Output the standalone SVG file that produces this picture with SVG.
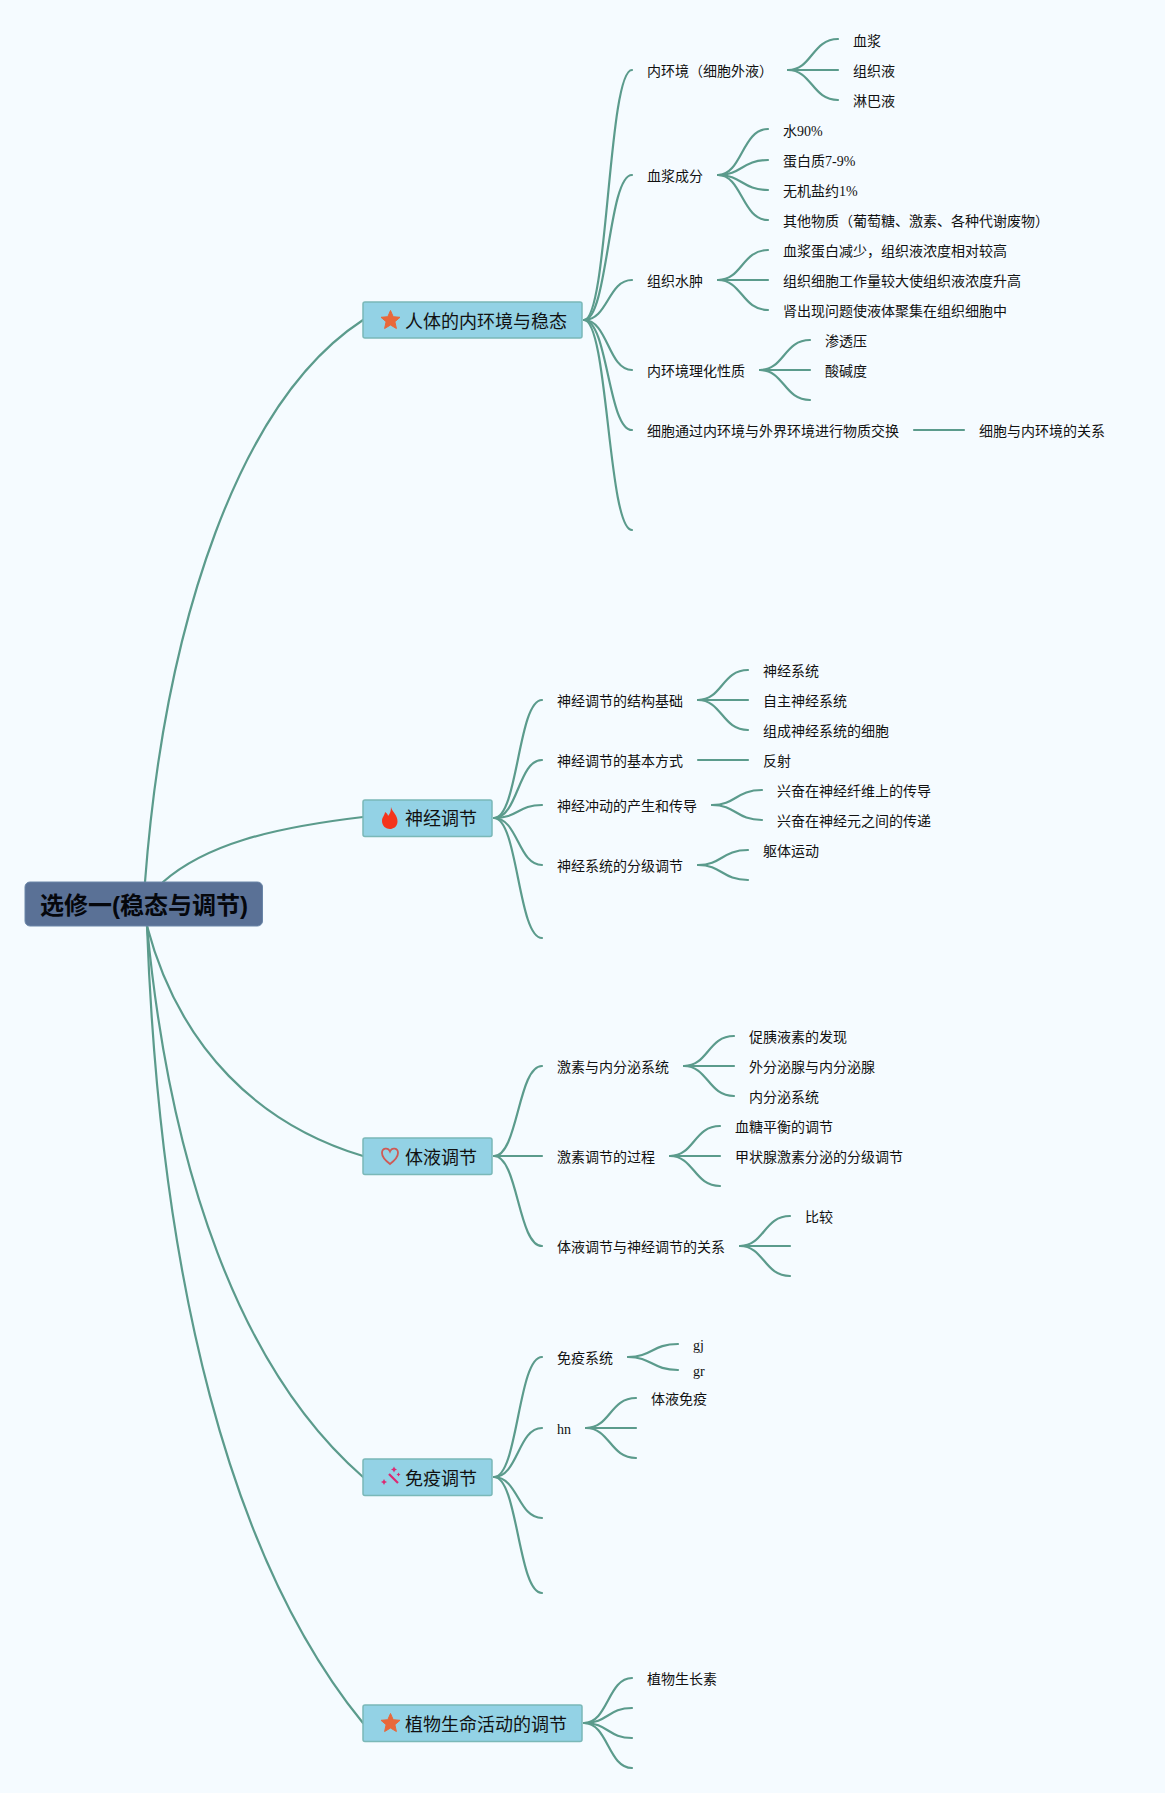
<svg xmlns="http://www.w3.org/2000/svg" width="1165" height="1793" viewBox="0 0 1165 1793">
<style>
.c{fill:none;stroke:#5b9b8c;stroke-width:2.200;stroke-linecap:round}
.n{fill:#93d2e5;stroke:#7ab8b8;stroke-width:1.500}
.r{fill:#5a7196;stroke:#6a86a8;stroke-width:1}
text{fill:#111;font-family:"Liberation Serif","Noto Sans CJK SC",sans-serif;font-size:14px}
.t{font-size:18px;font-family:"Noto Sans CJK SC",sans-serif}
.rt{font-size:24px;font-weight:700;font-family:"Liberation Sans","Noto Sans CJK SC",sans-serif;fill:#05070c}
</style>
<defs>
<path id="star" d="M0,-9.500 L2.700,-3.300 L9.500,-2.700 L4.400,1.700 L5.900,8.500 L0,5 L-5.900,8.500 L-4.400,1.700 L-9.500,-2.700 L-2.700,-3.300 Z" fill="#e8683a" stroke="#e8683a" stroke-linejoin="round"/>
</defs>
<rect width="1165" height="1793" fill="#f5fbff"/>
<g id="connectors">
<path class="c" d="M145,882 C165,620 240,400 363,320"/>
<path class="c" d="M163,882 C205,845 270,828 363,817"/>
<path class="c" d="M147,926 C180,1050 260,1125 363,1156"/>
<path class="c" d="M147,926 C170,1170 240,1370 363,1477"/>
<path class="c" d="M147,926 C160,1280 230,1560 363,1723"/>
<path class="c" d="M584,320 C608,320 608,70 632,70"/>
<path class="c" d="M584,320 C608,320 608,175 632,175"/>
<path class="c" d="M584,320 C608,320 608,280 632,280"/>
<path class="c" d="M584,320 C608,320 608,370 632,370"/>
<path class="c" d="M584,320 C608,320 608,430 632,430"/>
<path class="c" d="M584,320 C608,320 608,530 632,530"/>
<path class="c" d="M788,70 C812,70 812,39 838,39"/><path class="c" d="M788,70 H838"/><path class="c" d="M788,70 C812,70 812,100 838,100"/>
<path class="c" d="M718,175 C742,175 742,129 768,129"/><path class="c" d="M718,175 C742,175 742,160 768,160"/><path class="c" d="M718,175 C742,175 742,190 768,190"/><path class="c" d="M718,175 C742,175 742,220 768,220"/>
<path class="c" d="M718,280 C742,280 742,250 768,250"/><path class="c" d="M718,280 H768"/><path class="c" d="M718,280 C742,280 742,310 768,310"/>
<path class="c" d="M760,370 C784,370 784,340 810,340"/><path class="c" d="M760,370 H810"/><path class="c" d="M760,370 C784,370 784,400 810,400"/>
<path class="c" d="M914,430 H964"/>
<path class="c" d="M494,818 C518,818 518,700 542,700"/>
<path class="c" d="M494,818 C518,818 518,760 542,760"/>
<path class="c" d="M494,818 C518,818 518,805 542,805"/>
<path class="c" d="M494,818 C518,818 518,865 542,865"/>
<path class="c" d="M494,818 C518,818 518,938 542,938"/>
<path class="c" d="M698,700 C722,700 722,670 748,670"/><path class="c" d="M698,700 H748"/><path class="c" d="M698,700 C722,700 722,730 748,730"/>
<path class="c" d="M698,760 H748"/>
<path class="c" d="M712,805 C736,805 736,790 762,790"/><path class="c" d="M712,805 C736,805 736,820 762,820"/>
<path class="c" d="M698,865 C722,865 722,850 748,850"/><path class="c" d="M698,865 C722,865 722,880 748,880"/>
<path class="c" d="M494,1156 C518,1156 518,1066 542,1066"/>
<path class="c" d="M494,1156 H542"/>
<path class="c" d="M494,1156 C518,1156 518,1246 542,1246"/>
<path class="c" d="M684,1066 C708,1066 708,1036 734,1036"/><path class="c" d="M684,1066 H734"/><path class="c" d="M684,1066 C708,1066 708,1096 734,1096"/>
<path class="c" d="M670,1156 C694,1156 694,1126 720,1126"/><path class="c" d="M670,1156 H720"/><path class="c" d="M670,1156 C694,1156 694,1186 720,1186"/>
<path class="c" d="M740,1246 C764,1246 764,1216 790,1216"/><path class="c" d="M740,1246 H790"/><path class="c" d="M740,1246 C764,1246 764,1276 790,1276"/>
<path class="c" d="M494,1477 C518,1477 518,1357 542,1357"/>
<path class="c" d="M494,1477 C518,1477 518,1428 542,1428"/>
<path class="c" d="M494,1477 C518,1477 518,1518 542,1518"/>
<path class="c" d="M494,1477 C518,1477 518,1593 542,1593"/>
<path class="c" d="M628,1357 C652,1357 652,1344 678,1344"/><path class="c" d="M628,1357 C652,1357 652,1370 678,1370"/>
<path class="c" d="M586,1428 C610,1428 610,1398 636,1398"/><path class="c" d="M586,1428 H636"/><path class="c" d="M586,1428 C610,1428 610,1458 636,1458"/>
<path class="c" d="M584,1723 C608,1723 608,1678 632,1678"/>
<path class="c" d="M584,1723 C608,1723 608,1708 632,1708"/>
<path class="c" d="M584,1723 C608,1723 608,1738 632,1738"/>
<path class="c" d="M584,1723 C608,1723 608,1768 632,1768"/>
</g>
<g id="root"><rect class="r" x="25" y="882" width="237.500" height="44" rx="5"/><text class="rt" x="40" y="914">选修一(稳态与调节)</text></g>
<g id="n1"><rect class="n" x="363" y="302" width="219" height="36" rx="2"/><use href="#star" x="390.500" y="320"/><text class="t" x="405" y="328">人体的内环境与稳态</text></g>
<g id="n2"><rect class="n" x="363" y="800" width="129" height="36.500" rx="2"/><path d="M391,807 C392,812 398,815 397.500,822 C397,827 393,829 390,829 C386,829 382,826 382,821 C382,817 385,815 385,812 C387,813 388,815 388,816 C390,814 391,811 391,807 Z" fill="#f4351c"/><text class="t" x="405" y="825">神经调节</text></g>
<g id="n3"><rect class="n" x="363" y="1138" width="129" height="36.500" rx="2"/><path d="M390,1164 C384,1159.500 382,1156.500 382,1153 C382,1148 388,1147 390,1151.500 C392,1147 398,1148 398,1153 C398,1156.500 396,1159.500 390,1164 Z" fill="none" stroke="#cf5a55" stroke-width="1.800"/><text class="t" x="405" y="1164">体液调节</text></g>
<g id="n4"><rect class="n" x="363" y="1459" width="129" height="36.500" rx="2"/><path d="M389,1474 L398,1483" stroke="#dc2a72" stroke-width="2.200" fill="none"/><path d="M394,1466.500 l1,2 2,1 -2,1 -1,2 -1,-2 -2,-1 2,-1z M384,1479 l1,2 2,1 -2,1 -1,2 -1,-2 -2,-1 2,-1z M398.500,1472.500 l.7,1.300 1.300,.7 -1.300,.7 -.7,1.300 -.7,-1.300 -1.300,-.7 1.300,-.7z" fill="#dc2a72"/><text class="t" x="405" y="1485">免疫调节</text></g>
<g id="n5"><rect class="n" x="363" y="1705" width="219" height="36.500" rx="2"/><use href="#star" x="390.500" y="1723"/><text class="t" x="405" y="1731">植物生命活动的调节</text></g>
<g id="labels">
<text x="647" y="76">内环境（细胞外液）</text>
<text x="853" y="46">血浆</text><text x="853" y="76">组织液</text><text x="853" y="106">淋巴液</text>
<text x="647" y="181">血浆成分</text>
<text x="783" y="136">水90%</text><text x="783" y="166">蛋白质7-9%</text><text x="783" y="196">无机盐约1%</text><text x="783" y="226">其他物质（葡萄糖、激素、各种代谢废物）</text>
<text x="647" y="286">组织水肿</text>
<text x="783" y="256">血浆蛋白减少，组织液浓度相对较高</text><text x="783" y="286">组织细胞工作量较大使组织液浓度升高</text><text x="783" y="316">肾出现问题使液体聚集在组织细胞中</text>
<text x="647" y="376">内环境理化性质</text>
<text x="825" y="346">渗透压</text><text x="825" y="376">酸碱度</text>
<text x="647" y="436">细胞通过内环境与外界环境进行物质交换</text>
<text x="979" y="436">细胞与内环境的关系</text>
<text x="557" y="706">神经调节的结构基础</text>
<text x="763" y="676">神经系统</text><text x="763" y="706">自主神经系统</text><text x="763" y="736">组成神经系统的细胞</text>
<text x="557" y="766">神经调节的基本方式</text><text x="763" y="766">反射</text>
<text x="557" y="811">神经冲动的产生和传导</text>
<text x="777" y="796">兴奋在神经纤维上的传导</text><text x="777" y="826">兴奋在神经元之间的传递</text>
<text x="557" y="871">神经系统的分级调节</text><text x="763" y="856">躯体运动</text>
<text x="557" y="1072">激素与内分泌系统</text>
<text x="749" y="1042">促胰液素的发现</text><text x="749" y="1072">外分泌腺与内分泌腺</text><text x="749" y="1102">内分泌系统</text>
<text x="557" y="1162">激素调节的过程</text>
<text x="735" y="1132">血糖平衡的调节</text><text x="735" y="1162">甲状腺激素分泌的分级调节</text>
<text x="557" y="1252">体液调节与神经调节的关系</text><text x="805" y="1222">比较</text>
<text x="557" y="1363">免疫系统</text><text x="693" y="1350">gj</text><text x="693" y="1376">gr</text>
<text x="557" y="1434">hn</text><text x="651" y="1404">体液免疫</text>
<text x="647" y="1684">植物生长素</text>
</g>
</svg>
